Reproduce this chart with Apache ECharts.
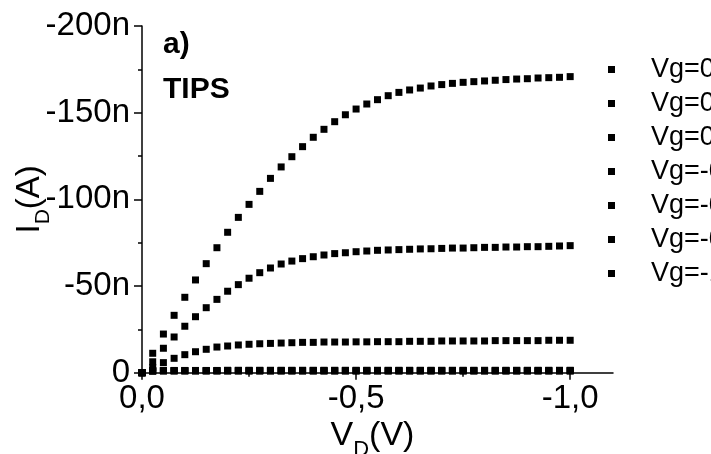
<!DOCTYPE html>
<html><head><meta charset="utf-8">
<script src="https://cdn.jsdelivr.net/npm/echarts@6/dist/echarts.min.js"></script>
<style>html,body{margin:0;padding:0;background:#fff}#c{width:711px;height:454px}</style>
</head><body><div id="c"></div>
<script>
// Drain voltage V_D (V)
const vdValues = [0, -0.025, -0.05, -0.075, -0.1, -0.125, -0.15, -0.175, -0.2, -0.225,
  -0.25, -0.275, -0.3, -0.325, -0.35, -0.375, -0.4, -0.425, -0.45, -0.475,
  -0.5, -0.525, -0.55, -0.575, -0.6, -0.625, -0.65, -0.675, -0.7, -0.725,
  -0.75, -0.775, -0.8, -0.825, -0.85, -0.875, -0.9, -0.925, -0.95, -0.975, -1.0];

// Legend names (clipped at the right edge in the reference)
const seriesNames = ['Vg=0,6V', 'Vg=0,4V', 'Vg=0,2V', 'Vg=-0,2V', 'Vg=-0,4V', 'Vg=-0,6V', 'Vg=-1V'];

// Drain current I_D in nA
const idVg06 = [0, -0.9, -1.0, -1.0, -1.0, -1.0, -1.0, -1.0, -1.0, -1.0,
  -1.0, -1.0, -1.0, -1.0, -1.0, -1.0, -1.0, -1.0, -1.0, -1.0,
  -1.0, -1.0, -1.0, -1.0, -1.0, -1.0, -1.0, -1.0, -1.0, -1.0,
  -1.0, -1.0, -1.0, -1.0, -1.0, -1.0, -1.0, -1.0, -1.0, -1.0, -1.0];
const idVg04 = [0, -1.0, -1.1, -1.1, -1.1, -1.1, -1.1, -1.1, -1.1, -1.1,
  -1.1, -1.1, -1.1, -1.1, -1.1, -1.1, -1.1, -1.1, -1.1, -1.1,
  -1.1, -1.1, -1.1, -1.1, -1.1, -1.1, -1.1, -1.1, -1.1, -1.1,
  -1.1, -1.1, -1.1, -1.1, -1.1, -1.1, -1.1, -1.1, -1.1, -1.1, -1.1];
const idVg02 = [0, -1.1, -1.2, -1.2, -1.2, -1.2, -1.2, -1.2, -1.2, -1.2,
  -1.2, -1.2, -1.2, -1.2, -1.2, -1.2, -1.2, -1.2, -1.2, -1.2,
  -1.2, -1.2, -1.2, -1.2, -1.2, -1.2, -1.2, -1.2, -1.2, -1.2,
  -1.2, -1.2, -1.2, -1.2, -1.2, -1.2, -1.2, -1.2, -1.2, -1.2, -1.2];
const idVgM02 = [0, -1.2, -1.3, -1.3, -1.3, -1.3, -1.3, -1.3, -1.4, -1.4,
  -1.4, -1.4, -1.4, -1.4, -1.4, -1.4, -1.4, -1.4, -1.4, -1.4,
  -1.4, -1.4, -1.4, -1.4, -1.4, -1.4, -1.4, -1.4, -1.4, -1.4,
  -1.4, -1.4, -1.4, -1.4, -1.4, -1.4, -1.4, -1.4, -1.4, -1.4, -1.4];
const idVgM04 = [0, -3.0, -5.8, -8.3, -10.4, -12.1, -13.5, -14.8, -15.4, -16.0,
  -16.4, -16.7, -16.9, -17.1, -17.3, -17.5, -17.5, -17.7, -17.7, -17.7,
  -17.8, -17.8, -17.9, -17.9, -17.9, -18.1, -18.1, -18.1, -18.3, -18.3,
  -18.3, -18.3, -18.3, -18.5, -18.5, -18.5, -18.5, -18.5, -18.7, -18.7, -18.7];
const idVgM06 = [0, -6.3, -14.1, -20.6, -26.8, -32.3, -37.5, -42.3, -47.0, -50.8,
  -54.5, -57.7, -60.4, -62.7, -64.4, -65.8, -66.9, -67.9, -68.7, -69.2,
  -69.8, -70.2, -70.6, -70.8, -71.0, -71.2, -71.4, -71.5, -71.7, -71.9,
  -71.9, -72.1, -72.3, -72.3, -72.5, -72.5, -72.7, -72.7, -72.9, -73.1, -73.3];
const idVgM1 = [0, -11.2, -22.3, -33.1, -43.5, -53.5, -62.9, -72.1, -81.0, -89.6,
  -97.1, -104.6, -112.1, -118.7, -124.6, -130.4, -135.8, -140.4, -144.8, -148.8,
  -152.1, -155.0, -157.5, -159.8, -161.7, -163.1, -164.2, -165.4, -166.2, -166.9,
  -167.5, -167.9, -168.3, -168.7, -169.1, -169.4, -169.6, -170.0, -170.2, -170.4, -170.8];

// Tick labels
const xTickValues = [0, -0.5, -1.0];
const xTickLabels = ['0,0', '-0,5', '-1,0'];
const xMinorTickValues = [-0.25, -0.75];
const yTickLabels = ['-200n', '-150n', '-100n', '-50n', '0'];
const yTickValues = [-200, -150, -100, -50, 0];

const allSeries = [idVg06, idVg04, idVg02, idVgM02, idVgM04, idVgM06, idVgM1];
const FONT = '"Liberation Sans", Arial, sans-serif';

const chart = echarts.init(document.getElementById('c'), null, {renderer: 'canvas'});
chart.setOption({
  animation: false,
  backgroundColor: '#fff',
  grid: {left: 142, top: 26, width: 471, height: 346.7, containLabel: false, outerBoundsMode: 'none'},
  xAxis: [{
    type: 'value', min: -1.1, max: 0, inverse: true, position: 'bottom',
    axisLine: {onZero: false, lineStyle: {color: '#000', width: 1.5}},
    axisTick: {customValues: xTickValues, length: 7, lineStyle: {color: '#000', width: 1.5}},
    axisLabel: {customValues: xTickValues, fontSize: 33, color: '#000', fontFamily: FONT, margin: 10,
      formatter: v => { const i = xTickValues.findIndex(t => Math.abs(t - v) < 1e-9); return i >= 0 ? xTickLabels[i] : ''; }},
    splitLine: {show: false},
    name: '{m|V}{s|D}{m|(V)}', nameLocation: 'middle', nameGap: 38, nameMoveOverlap: false,
    nameTextStyle: {color: '#000', fontFamily: FONT, padding: [0, 10, 0, 0],
      rich: {m: {fontSize: 34, fontFamily: FONT, color: '#000'},
             s: {fontSize: 22, fontFamily: FONT, color: '#000', padding: [28, 0, 0, 0]}}}
  }, {
    type: 'value', min: -1.1, max: 0, inverse: true, position: 'bottom',
    axisLine: {show: false, onZero: false},
    axisTick: {customValues: xMinorTickValues, length: 4, lineStyle: {color: '#000', width: 1.5}},
    axisLabel: {show: false}, splitLine: {show: false}
  }],
  yAxis: {
    type: 'value', min: -200, max: 0, interval: 50, inverse: true,
    axisLine: {onZero: false, lineStyle: {color: '#000', width: 1.5}},
    axisTick: {length: 8, lineStyle: {color: '#000', width: 1.5}},
    minorTick: {show: true, splitNumber: 2, length: 4, lineStyle: {color: '#000', width: 1.5}},
    axisLabel: {fontSize: 33, color: '#000', fontFamily: FONT, margin: 12,
      formatter: v => { const i = yTickValues.indexOf(v); return i >= 0 ? yTickLabels[i] : ''; }},
    splitLine: {show: false}, minorSplitLine: {show: false},
    name: '{m|I}{s|D}{m|(A)}', nameLocation: 'middle', nameGap: 88, nameRotate: 90, nameMoveOverlap: false,
    nameTextStyle: {color: '#000', fontFamily: FONT,
      rich: {m: {fontSize: 33, fontFamily: FONT, color: '#000'},
             s: {fontSize: 21, fontFamily: FONT, color: '#000', padding: [28, 0, 0, 0]}}}
  },
  legend: {
    orient: 'vertical', left: 608, top: 56, padding: 0,
    itemWidth: 7, itemHeight: 7, itemGap: 7, icon: 'rect',
    data: seriesNames,
    textStyle: {fontSize: 27, color: '#000', fontFamily: FONT, lineHeight: 26, padding: [0, 0, 0, 31]}
  },
  graphic: [
    {type: 'text', left: 163, top: 30, style: {text: 'a)', font: 'bold 30px ' + FONT, fill: '#000'}},
    {type: 'text', left: 163, top: 75, style: {text: 'TIPS', font: 'bold 30px ' + FONT, fill: '#000'}}
  ],
  series: allSeries.map((arr, k) => ({
    type: 'scatter', name: seriesNames[k], symbol: 'rect', symbolSize: 7,
    itemStyle: {color: '#000', opacity: 1},
    xAxisIndex: 0,
    data: vdValues.map((v, i) => [v, arr[i]])
  }))
});
</script></body></html>
